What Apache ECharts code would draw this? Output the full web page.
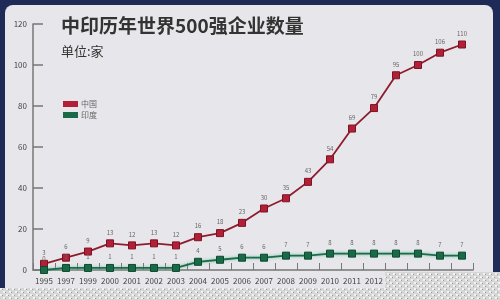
<!DOCTYPE html>
<html><head><meta charset="utf-8">
<script src="https://cdn.jsdelivr.net/npm/echarts@6/dist/echarts.min.js"></script>
<style>html,body{margin:0;padding:0;background:#1d2b56;}#c{width:500px;height:300px;}</style>
</head><body><div id="c"></div>
<script>
const years = ['1995','1997','1999','2000','2001','2002','2003','2004','2005','2006','2007','2008','2009','2010','2011','2012','2013','2014','2015','2016'];
const china = [3,6,9,13,12,13,12,16,18,23,30,35,43,54,69,79,95,100,106,110];
const india = [0,1,1,1,1,1,1,4,5,6,6,7,7,8,8,8,8,8,7,7];
const yTicks = [0,20,40,60,80,100,120];

// checkered pattern for the bottom overlay
const pc = document.createElement('canvas');
pc.width = 6; pc.height = 6;
const pctx = pc.getContext('2d');
pctx.fillStyle = '#d6d6d6'; pctx.fillRect(0,0,6,6);
pctx.fillStyle = '#f2f2f2'; pctx.fillRect(0,0,2,2); pctx.fillRect(3,3,2,2);
pctx.fillStyle = '#9a9a9a'; pctx.fillRect(2,1,1,1); pctx.fillRect(5,4,1,1);

const chart = echarts.init(document.getElementById('c'));
const font = '"Noto Sans CJK SC", "Noto Sans", sans-serif';
chart.setOption({
  backgroundColor: '#1d2b56',
  animation: false,
  textStyle: {fontFamily: font},
  title: {
    text: '中印历年世界500强企业数量',
    subtext: '单位:家',
    left: 56, top: 11,
    itemGap: 10,
    textStyle: {fontSize: 19, fontWeight: 'bold', color: '#333', fontFamily: font},
    subtextStyle: {fontSize: 13, color: '#333', fontFamily: font}
  },
  legend: {
    orient: 'vertical',
    left: 58, top: 95,
    itemWidth: 15, itemHeight: 6, itemGap: 3,
    icon: 'rect',
    itemStyle: {borderWidth: 0},
    textStyle: {fontSize: 8, color: '#666', padding: [0,0,0,-2]},
    data: ['中国','印度']
  },
  grid: {left: 33, right: 27, top: 24, bottom: 30, containLabel: false},
  xAxis: {
    type: 'category',
    data: years,
    boundaryGap: true,
    axisLine: {lineStyle: {color: '#777', width: 1.5}},
    axisTick: {show: true, inside: true, length: 7, lineStyle: {color: '#777'}},
    axisLabel: {fontSize: 8, color: '#444', margin: 7, interval: 0}
  },
  yAxis: {
    type: 'value',
    min: yTicks[0], max: yTicks[yTicks.length-1], interval: 20,
    axisLine: {show: true, lineStyle: {color: '#777', width: 1.5}},
    axisTick: {show: true, inside: true, length: 10, lineStyle: {color: '#777', width: 1.5}},
    axisLabel: {fontSize: 8, color: '#444', margin: 6},
    splitLine: {show: false}
  },
  series: [
    {
      name: '中国', type: 'line', data: china,
      symbol: 'rect', symbolSize: 7,
      itemStyle: {color: '#b41f38', borderColor: '#7a1424', borderWidth: 1},
      lineStyle: {color: '#8e1b2e', width: 1.8},
      label: {show: true, position: 'top', fontSize: 6, color: '#666', distance: 4},
      z: 3
    },
    {
      name: '印度', type: 'line', data: india,
      symbol: 'rect', symbolSize: 7,
      itemStyle: {color: '#1a6a48', borderColor: '#0d4a30', borderWidth: 1},
      lineStyle: {color: '#1d6b4b', width: 1.8, shadowColor: 'rgba(90,190,150,0.9)', shadowBlur: 3},
      label: {show: true, position: 'top', fontSize: 6, color: '#666', distance: 4},
      z: 3
    }
  ],
  graphic: [
    {type: 'rect', z: -10, shape: {x: 5, y: 5, width: 488, height: 310, r: 8}, style: {fill: '#e7e6ea'}},
    {type: 'rect', z: 100, shape: {x: 0, y: 288, width: 500, height: 12}, style: {fill: {image: pc, repeat: 'repeat'}}},
    {type: 'rect', z: 100, shape: {x: 385, y: 272, width: 115, height: 28}, style: {fill: {image: pc, repeat: 'repeat'}}}
  ]
});
</script></body></html>
